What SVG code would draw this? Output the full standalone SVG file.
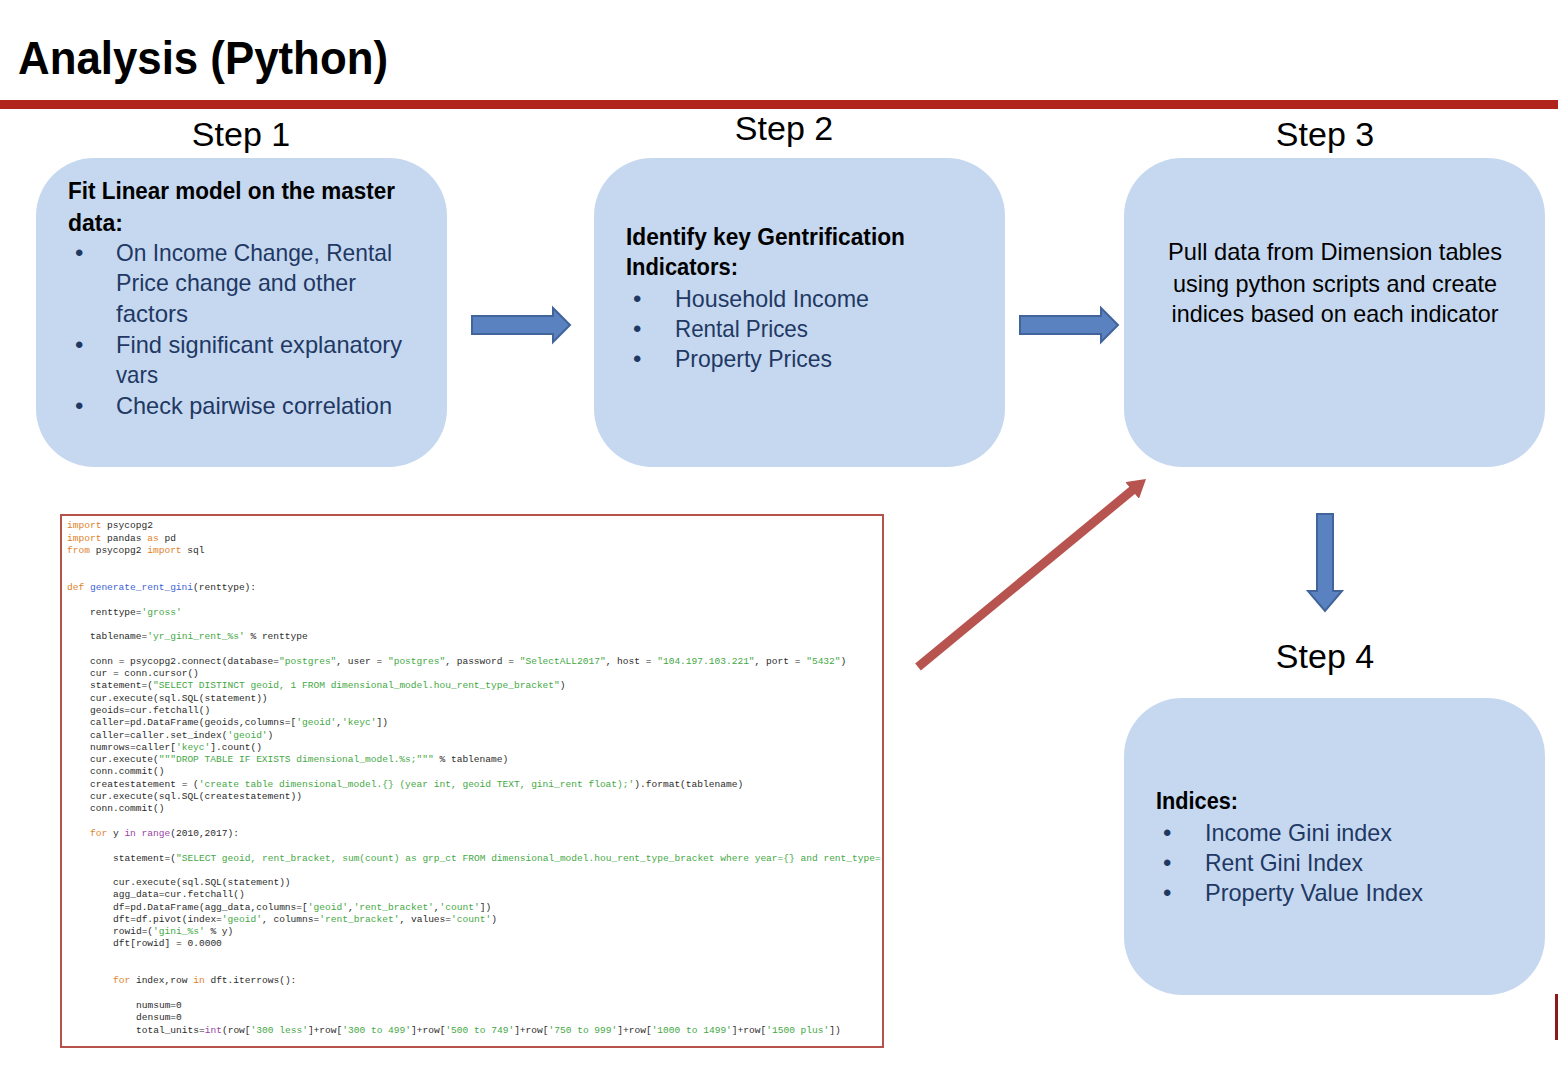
<svg xmlns="http://www.w3.org/2000/svg" width="1558" height="1068" viewBox="0 0 1558 1068">
<style>
.title{font-family:"Liberation Sans",Arial,sans-serif;font-weight:bold;font-size:46px;fill:#000}
.step{font-family:"Liberation Sans",Arial,sans-serif;font-size:34px;fill:#000;text-anchor:middle}
.box{fill:#c6d8ef}
.hd{font-family:"Liberation Sans",Arial,sans-serif;font-weight:bold;font-size:23px;fill:#000}
.bl{font-family:"Liberation Sans",Arial,sans-serif;font-size:24px;fill:#1f3864}
.tx{font-family:"Liberation Sans",Arial,sans-serif;font-size:24px;fill:#000;text-anchor:middle}
.barrow{fill:#5b82c0;stroke:#41649a;stroke-width:2;stroke-linejoin:miter}
.code{font-family:"Liberation Mono","DejaVu Sans Mono",monospace;font-size:9.55px;fill:#2b2b2b}
.k{fill:#e0822c}
.f{fill:#3d63d6}
.s{fill:#45a845}
.b{fill:#9b3fa8}
</style>
<defs>
<marker id="redhead" viewBox="0 0 10 12" refX="1" refY="6" markerWidth="2" markerHeight="2.4" orient="auto" markerUnits="strokeWidth">
<path d="M0,0 L10,6 L0,12 z" fill="#b85450"/>
</marker>
<clipPath id="codeclip"><rect x="62" y="516" width="820" height="530"/></clipPath>
</defs>
<rect width="1558" height="1068" fill="#fff"/>
<text class="title" x="18" y="74" textLength="370" lengthAdjust="spacingAndGlyphs">Analysis (Python)</text>
<rect x="0" y="100" width="1558" height="9" fill="#b0241c"/>

<g id="step1">
<text class="step" x="241" y="146">Step 1</text>
<rect class="box" x="36" y="158" width="411" height="309" rx="58"/>
<text class="hd" x="68" y="199" textLength="327" lengthAdjust="spacingAndGlyphs">Fit Linear model on the master</text>
<text class="hd" x="68" y="231">data:</text>
<text class="bl" x="75" y="261">•</text><text class="bl" x="116" y="261" textLength="276" lengthAdjust="spacingAndGlyphs">On Income Change, Rental</text>
<text class="bl" x="116" y="291" textLength="240" lengthAdjust="spacingAndGlyphs">Price change and other</text>
<text class="bl" x="116" y="322" textLength="72" lengthAdjust="spacingAndGlyphs">factors</text>
<text class="bl" x="75" y="353">•</text><text class="bl" x="116" y="353" textLength="286" lengthAdjust="spacingAndGlyphs">Find significant explanatory</text>
<text class="bl" x="116" y="383" textLength="42" lengthAdjust="spacingAndGlyphs">vars</text>
<text class="bl" x="75" y="414">•</text><text class="bl" x="116" y="414" textLength="276" lengthAdjust="spacingAndGlyphs">Check pairwise correlation</text>
</g>

<g id="step2">
<text class="step" x="784" y="140">Step 2</text>
<rect class="box" x="594" y="158" width="411" height="309" rx="58"/>
<text class="hd" x="626" y="245" textLength="279" lengthAdjust="spacingAndGlyphs">Identify key Gentrification</text>
<text class="hd" x="626" y="275" textLength="112" lengthAdjust="spacingAndGlyphs">Indicators:</text>
<text class="bl" x="633" y="307">•</text><text class="bl" x="675" y="307" textLength="194" lengthAdjust="spacingAndGlyphs">Household Income</text>
<text class="bl" x="633" y="337">•</text><text class="bl" x="675" y="337" textLength="133" lengthAdjust="spacingAndGlyphs">Rental Prices</text>
<text class="bl" x="633" y="367">•</text><text class="bl" x="675" y="367" textLength="157" lengthAdjust="spacingAndGlyphs">Property Prices</text>
</g>

<g id="step3">
<text class="step" x="1325" y="146">Step 3</text>
<rect class="box" x="1124" y="158" width="421" height="309" rx="58"/>
<text class="tx" x="1335" y="260" textLength="334" lengthAdjust="spacingAndGlyphs">Pull data from Dimension tables</text>
<text class="tx" x="1335" y="292" textLength="324" lengthAdjust="spacingAndGlyphs">using python scripts and create</text>
<text class="tx" x="1335" y="322" textLength="327" lengthAdjust="spacingAndGlyphs">indices based on each indicator</text>
</g>

<g id="step4">
<text class="step" x="1325" y="668">Step 4</text>
<rect class="box" x="1124" y="698" width="421" height="297" rx="58"/>
<text class="hd" x="1156" y="809" textLength="82" lengthAdjust="spacingAndGlyphs">Indices:</text>
<text class="bl" x="1163" y="841">•</text><text class="bl" x="1205" y="841" textLength="187" lengthAdjust="spacingAndGlyphs">Income Gini index</text>
<text class="bl" x="1163" y="871">•</text><text class="bl" x="1205" y="871" textLength="158" lengthAdjust="spacingAndGlyphs">Rent Gini Index</text>
<text class="bl" x="1163" y="901">•</text><text class="bl" x="1205" y="901" textLength="218" lengthAdjust="spacingAndGlyphs">Property Value Index</text>
</g>

<g id="code">
<rect x="61" y="515" width="822" height="532" fill="#fff" stroke="#b5534a" stroke-width="2"/>
<g class="code" clip-path="url(#codeclip)">
<text x="67" y="528"><tspan class="k">import</tspan> psycopg2</text>
<text x="67" y="541"><tspan class="k">import</tspan> pandas <tspan class="k">as</tspan> pd</text>
<text x="67" y="553"><tspan class="k">from</tspan> psycopg2 <tspan class="k">import</tspan> sql</text>
<text x="67" y="590"><tspan class="k">def</tspan> <tspan class="f">generate_rent_gini</tspan>(renttype):</text>
<text x="90" y="615">renttype=<tspan class="s">'gross'</tspan></text>
<text x="90" y="639">tablename=<tspan class="s">'yr_gini_rent_%s'</tspan> % renttype</text>
<text x="90" y="664">conn = psycopg2.connect(database=<tspan class="s">"postgres"</tspan>, user = <tspan class="s">"postgres"</tspan>, password = <tspan class="s">"SelectALL2017"</tspan>, host = <tspan class="s">"104.197.103.221"</tspan>, port = <tspan class="s">"5432"</tspan>)</text>
<text x="90" y="676">cur = conn.cursor()</text>
<text x="90" y="688">statement=(<tspan class="s">"SELECT DISTINCT geoid, 1 FROM dimensional_model.hou_rent_type_bracket"</tspan>)</text>
<text x="90" y="701">cur.execute(sql.SQL(statement))</text>
<text x="90" y="713">geoids=cur.fetchall()</text>
<text x="90" y="725">caller=pd.DataFrame(geoids,columns=[<tspan class="s">'geoid'</tspan>,<tspan class="s">'keyc'</tspan>])</text>
<text x="90" y="738">caller=caller.set_index(<tspan class="s">'geoid'</tspan>)</text>
<text x="90" y="750">numrows=caller[<tspan class="s">'keyc'</tspan>].count()</text>
<text x="90" y="762">cur.execute(<tspan class="s">"""DROP TABLE IF EXISTS dimensional_model.%s;"""</tspan> % tablename)</text>
<text x="90" y="774">conn.commit()</text>
<text x="90" y="787">createstatement = (<tspan class="s">'create table dimensional_model.{} (year int, geoid TEXT, gini_rent float);'</tspan>).format(tablename)</text>
<text x="90" y="799">cur.execute(sql.SQL(createstatement))</text>
<text x="90" y="811">conn.commit()</text>
<text x="90" y="836"><tspan class="k">for</tspan> y <tspan class="b">in</tspan> <tspan class="b">range</tspan>(2010,2017):</text>
<text x="113" y="861">statement=(<tspan class="s">"SELECT geoid, rent_bracket, sum(count) as grp_ct FROM dimensional_model.hou_rent_type_bracket where year={} and rent_type={}"</tspan></text>
<text x="113" y="885">cur.execute(sql.SQL(statement))</text>
<text x="113" y="897">agg_data=cur.fetchall()</text>
<text x="113" y="910">df=pd.DataFrame(agg_data,columns=[<tspan class="s">'geoid'</tspan>,<tspan class="s">'rent_bracket'</tspan>,<tspan class="s">'count'</tspan>])</text>
<text x="113" y="922">dft=df.pivot(index=<tspan class="s">'geoid'</tspan>, columns=<tspan class="s">'rent_bracket'</tspan>, values=<tspan class="s">'count'</tspan>)</text>
<text x="113" y="934">rowid=(<tspan class="s">'gini_%s'</tspan> % y)</text>
<text x="113" y="946">dft[rowid] = 0.0000</text>
<text x="113" y="983"><tspan class="k">for</tspan> index,row <tspan class="k">in</tspan> dft.iterrows():</text>
<text x="136" y="1008">numsum=0</text>
<text x="136" y="1020">densum=0</text>
<text x="136" y="1033">total_units=<tspan class="b">int</tspan>(row[<tspan class="s">'300 less'</tspan>]+row[<tspan class="s">'300 to 499'</tspan>]+row[<tspan class="s">'500 to 749'</tspan>]+row[<tspan class="s">'750 to 999'</tspan>]+row[<tspan class="s">'1000 to 1499'</tspan>]+row[<tspan class="s">'1500 plus'</tspan>])</text>
</g>
</g>

<g id="connectors">
<polygon class="barrow" points="472,316 553,316 553,308 570,325 553,342 553,334 472,334"/>
<polygon class="barrow" points="1020,316 1101,316 1101,308 1118,325 1101,342 1101,334 1020,334"/>
<polygon class="barrow" points="1317,514 1333,514 1333,591 1342,591 1325,611 1308,591 1317,591"/>
<line x1="918" y1="667" x2="1133.5" y2="489.3" stroke="#b85450" stroke-width="9" marker-end="url(#redhead)"/>
</g>

<rect x="1555" y="994" width="3" height="46" fill="#8b1a1a"/>
</svg>
